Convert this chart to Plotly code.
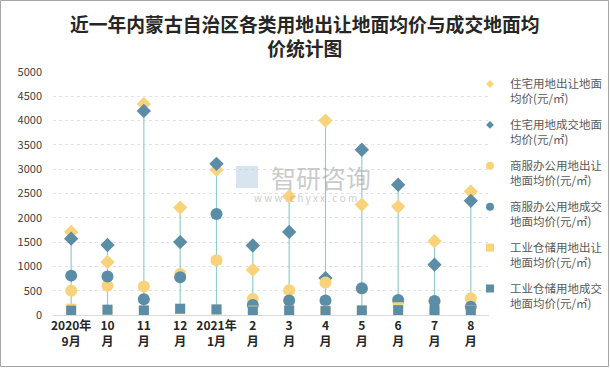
import plotly.graph_objects as go

categories = ["2020年<br>9月", "10<br>月", "11<br>月", "12<br>月", "2021年<br>1月", "2<br>月",
              "3<br>月", "4<br>月", "5<br>月", "6<br>月", "7<br>月", "8<br>月"]

res_sell = [1710, 1090, 4340, 2210, 2990, 930, 2440, 4000, 2270, 2230, 1520, 2540]
res_deal = [1570, 1440, 4200, 1500, 3110, 1430, 1710, 760, 3400, 2680, 1035, 2350]
com_sell = [500, 600, 585, 845, 1125, 330, 510, 670, 540, 280, 280, 345]
com_deal = [810, 790, 325, 775, 2080, 205, 300, 300, 550, 310, 290, 170]
ind_sell = [130, 100, 80, 120, 110, 90, 90, 90, 80, 160, 40, 100]
ind_deal = [90, 110, 95, 130, 115, 75, 95, 80, 95, 100, 100, 95]

names = ["住宅用地出让地面<br>均价(元/㎡)", "住宅用地成交地面<br>均价(元/㎡)",
         "商服办公用地出让<br>地面均价(元/㎡)", "商服办公用地成交<br>地面均价(元/㎡)",
         "工业仓储用地出让<br>地面均价(元/㎡)", "工业仓储用地成交<br>地面均价(元/㎡)"]

YEL = "#F9D27C"
TEAL = "#5B8DA6"
series = [res_sell, res_deal, com_sell, com_deal, ind_sell, ind_deal]
symbols = ["diamond", "diamond", "circle", "circle", "square", "square"]
colors = [YEL, TEAL, YEL, TEAL, YEL, TEAL]
sizes = [11, 11, 12, 12, 10, 10]
legend_sizes = [6, 6, 8, 8, 8, 8]

W, H = 610, 368
L, R, T, B = 53, 121, 72, 53
pw, ph = W - L - R, H - T - B

fig = go.Figure()

# high-low lines
lx, ly = [], []
for i, c in enumerate(categories):
    vals = [s[i] for s in series]
    lx += [c, c, None]
    ly += [min(vals), max(vals), None]
fig.add_trace(go.Scatter(x=lx, y=ly, mode="lines", line=dict(color="#8FCFCB", width=1.2),
                         showlegend=False, hoverinfo="skip"))

for s, n, sym, col, sz in zip(series, names, symbols, colors, sizes):
    fig.add_trace(go.Scatter(x=categories, y=s, mode="markers", name=n, showlegend=False,
                             marker=dict(symbol=sym, color=col, size=sz, line=dict(width=0))))

# legend entries with small markers
for n, sym, col, lsz in zip(names, symbols, colors, legend_sizes):
    fig.add_trace(go.Scatter(x=[None], y=[None], mode="markers", name=n, legendgroup=n,
                             marker=dict(symbol=sym, color=col, size=lsz, line=dict(width=0))))

fig.update_layout(
    width=W, height=H,
    margin=dict(l=L, r=R, t=T, b=B, autoexpand=False),
    paper_bgcolor="white", plot_bgcolor="white",
    font=dict(family="Noto Sans CJK SC", color="#404040"),
    showlegend=True,
    legend=dict(x=(470 - L) / pw, xanchor="left", y=1 + 2 / ph, yanchor="top",
                font=dict(size=11.5, color="#595959"), tracegroupgap=8,
                itemsizing="trace", bgcolor="rgba(0,0,0,0)", itemwidth=30,
                maxheight=360, valign="top"),
    xaxis=dict(type="category", categoryorder="array", categoryarray=categories,
               showgrid=False, showline=True, linecolor="#D9D9D9", linewidth=1,
               ticks="", tickfont=dict(size=12, color="#262626"),
               range=[-0.5, 11.5], fixedrange=True,
               tickprefix="<b>", ticksuffix="</b>"),
    yaxis=dict(range=[0, 5000], dtick=500, showgrid=True, gridcolor="#E3E3E3",
               griddash="dot", zeroline=False, showline=False,
               tickfont=dict(size=11, color="#404040"), ticks="",
               ticklabelstandoff=10),
)

# title
fig.add_annotation(xref="paper", yref="paper", x=(W / 2 - L) / pw, y=1 + (T - 8) / ph,
                   xanchor="center", yanchor="top", showarrow=False,
                   text="<b>近一年内蒙古自治区各类用地出让地面均价与成交地面均<br>价统计图</b>",
                   font=dict(size=18.8, color="#262626", family="Noto Sans CJK SC"))

# watermark
fig.add_annotation(xref="paper", yref="paper", x=(321 - L) / pw, y=(H - B - 177) / ph,
                   text="智研咨询", showarrow=False,
                   font=dict(size=25, color="rgba(150,150,150,0.5)"))
fig.add_annotation(xref="paper", yref="paper", x=(305 - L) / pw, y=(H - B - 197) / ph,
                   text="w w w . c h y x x . c o m", showarrow=False,
                   font=dict(size=10, color="rgba(150,150,150,0.5)"))
fig.add_shape(type="rect", xref="paper", yref="paper",
              x0=(236 - L) / pw, x1=(258 - L) / pw, y0=(H - B - 188) / ph, y1=(H - B - 166) / ph,
              line=dict(width=0), fillcolor="rgba(170,195,225,0.45)")

# outer border
fig.add_shape(type="rect", xref="paper", yref="paper",
              x0=-(L - 0.5) / pw, x1=1 + (R - 1.5) / pw, y0=-(B - 1.5) / ph, y1=1 + (T - 0.5) / ph,
              line=dict(color="#A6A6A6", width=1))

fig.write_html("out.html", config={"displayModeBar": False},
               post_script="document.body.style.margin='0';document.body.style.overflow='hidden';")
